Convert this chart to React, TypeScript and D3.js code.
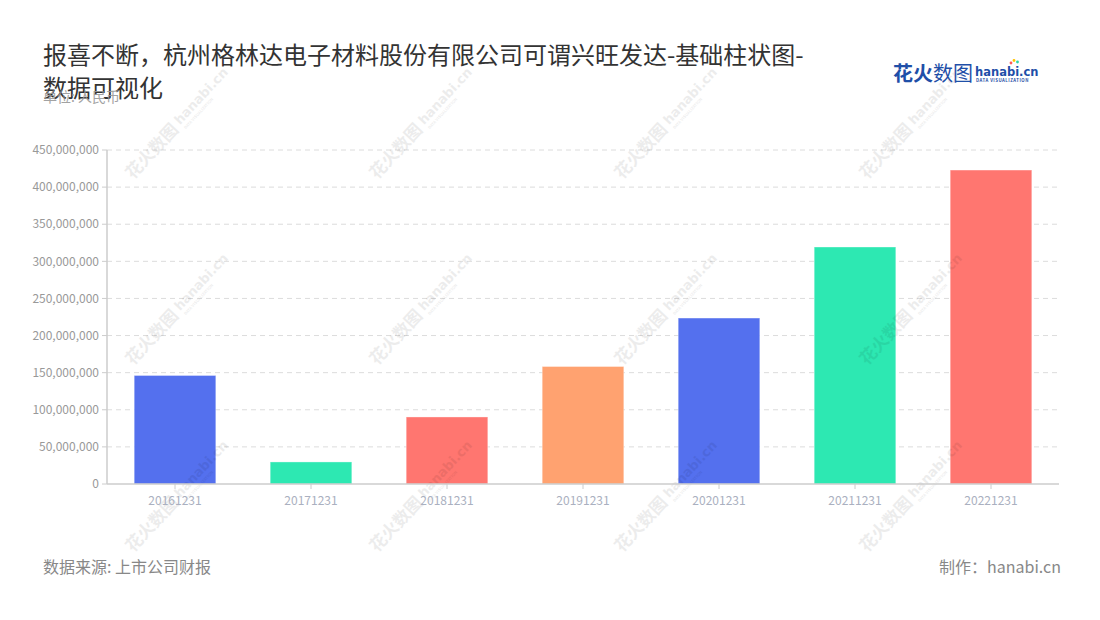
import React from "react";
import * as d3 from "d3";

const categories = ["20161231", "20171231", "20181231", "20191231", "20201231", "20211231", "20221231"];
const values = [146200000, 29700000, 90300000, 158300000, 223600000, 319300000, 423000000];
const barColors = ["#5470EE", "#2DE8B2", "#FF7670", "#FFA270", "#5470EE", "#2DE8B2", "#FF7670"];
const yTicks = [0, 50000000, 100000000, 150000000, 200000000, 250000000, 300000000, 350000000, 400000000, 450000000];
const titleLines = ["报喜不断，杭州格林达电子材料股份有限公司可谓兴旺发达-基础柱状图-", "数据可视化"];

const W = 1100;
const H = 620;
const FONT = "'Noto Sans CJK SC', 'Noto Sans', sans-serif";

export default function App() {
  const left = 107, right = 1059, top = 150, bottom = 484;
  const x = d3.scaleBand<string>().domain(categories).range([left, right]).paddingInner(0.4).paddingOuter(0.2);
  const y = d3.scaleLinear().domain([0, 450000000]).range([bottom, top]);
  const fmt = d3.format(",");

  const wmCols = [133, 377, 622, 867];
  const wmRows = [180, 366, 553];

  return (
    <svg width={W} height={H} style={{ position: "absolute", left: 0, top: 0, fontFamily: FONT }}>
      <rect x={0} y={0} width={W} height={H} fill="#fff" />
      {/* grid */}
      {yTicks.slice(1).map((t) => (
        <line key={t} x1={left} x2={right} y1={y(t)} y2={y(t)} stroke="#dcdcdc" strokeDasharray="5,4" strokeWidth={1} />
      ))}
      {/* bars */}
      {values.map((v, i) => (
        <rect key={categories[i]} x={x(categories[i])} y={y(v)} width={x.bandwidth()} height={bottom - y(v)}
          fill={barColors[i]} stroke="rgba(255,255,255,0.35)" strokeWidth={1} />
      ))}
      {/* watermarks */}
      {wmCols.map((cx) =>
        wmRows.map((cy) => (
          <g key={cx + "-" + cy} transform={`translate(${cx},${cy}) rotate(-47)`} opacity={0.07} fill="#000">
            <text x={0} y={0} fontSize={17} fontWeight={700}>花火数图</text>
            <text x={72} y={-3} fontSize={13} fontWeight={700} fontFamily="'DejaVu Sans', sans-serif">hanabi.cn</text>
            <text x={73} y={4} fontSize={4} fontWeight={700}>DATA VISUALIZATION</text>
          </g>
        ))
      )}
      {/* y axis */}
      <line x1={left} x2={left} y1={top} y2={bottom} stroke="#ccc" strokeWidth={1.5} />
      {yTicks.map((t) => (
        <g key={t}>
          <line x1={left - 5} x2={left} y1={y(t)} y2={y(t)} stroke="#ccc" strokeWidth={1} />
          <text x={left - 8} y={y(t)} dy="0.35em" textAnchor="end" fontSize={12} fill="#999">{fmt(t)}</text>
        </g>
      ))}
      {/* x axis */}
      <line x1={left} x2={right} y1={bottom} y2={bottom} stroke="#ccc" strokeWidth={1.5} />
      {categories.map((c) => {
        const cx = (x(c) as number) + x.bandwidth() / 2;
        return (
          <g key={c}>
            <line x1={cx} x2={cx} y1={bottom} y2={bottom + 5} stroke="#ccc" strokeWidth={1} />
            <text x={cx} y={bottom + 21} textAnchor="middle" fontSize={12} fill="#aab0c0">{c}</text>
          </g>
        );
      })}
      {/* title */}
      {titleLines.map((l, i) => (
        <text key={i} x={43} y={64 + i * 33} fontSize={24} fill="#333">{l}</text>
      ))}
      <text x={43} y={102} fontSize={14} fill="#999" opacity={0.9}>单位: 人民币</text>
      {/* logo */}
      <g>
        <text x={893} y={81} fontSize={20} fontWeight={700} fill="#1f4fa8">花火</text>
        <text x={933} y={81} fontSize={20} fill="#1f4fa8">数图</text>
        <text x={975} y={76} fontSize={11.5} fontWeight={700} fill="#1f4fa8" fontFamily="'DejaVu Sans', sans-serif">hanabi.cn</text>
        <text x={976} y={82} fontSize={4.3} fontWeight={700} fill="#1f4fa8" letterSpacing={0.5}>DATA VISUALIZATION</text>
        <circle cx={1011} cy={63} r={1.4} fill="#ff5a5a" />
        <circle cx={1014} cy={60.5} r={1.4} fill="#ffc400" />
        <circle cx={1017.5} cy={62} r={1.4} fill="#2dd4a8" />
      </g>
      {/* footer */}
      <text x={43} y={573} fontSize={16} fill="#888">数据来源: 上市公司财报</text>
      <text x={1061} y={573} fontSize={16} fill="#888" textAnchor="end">制作：hanabi.cn</text>
    </svg>
  );
}
